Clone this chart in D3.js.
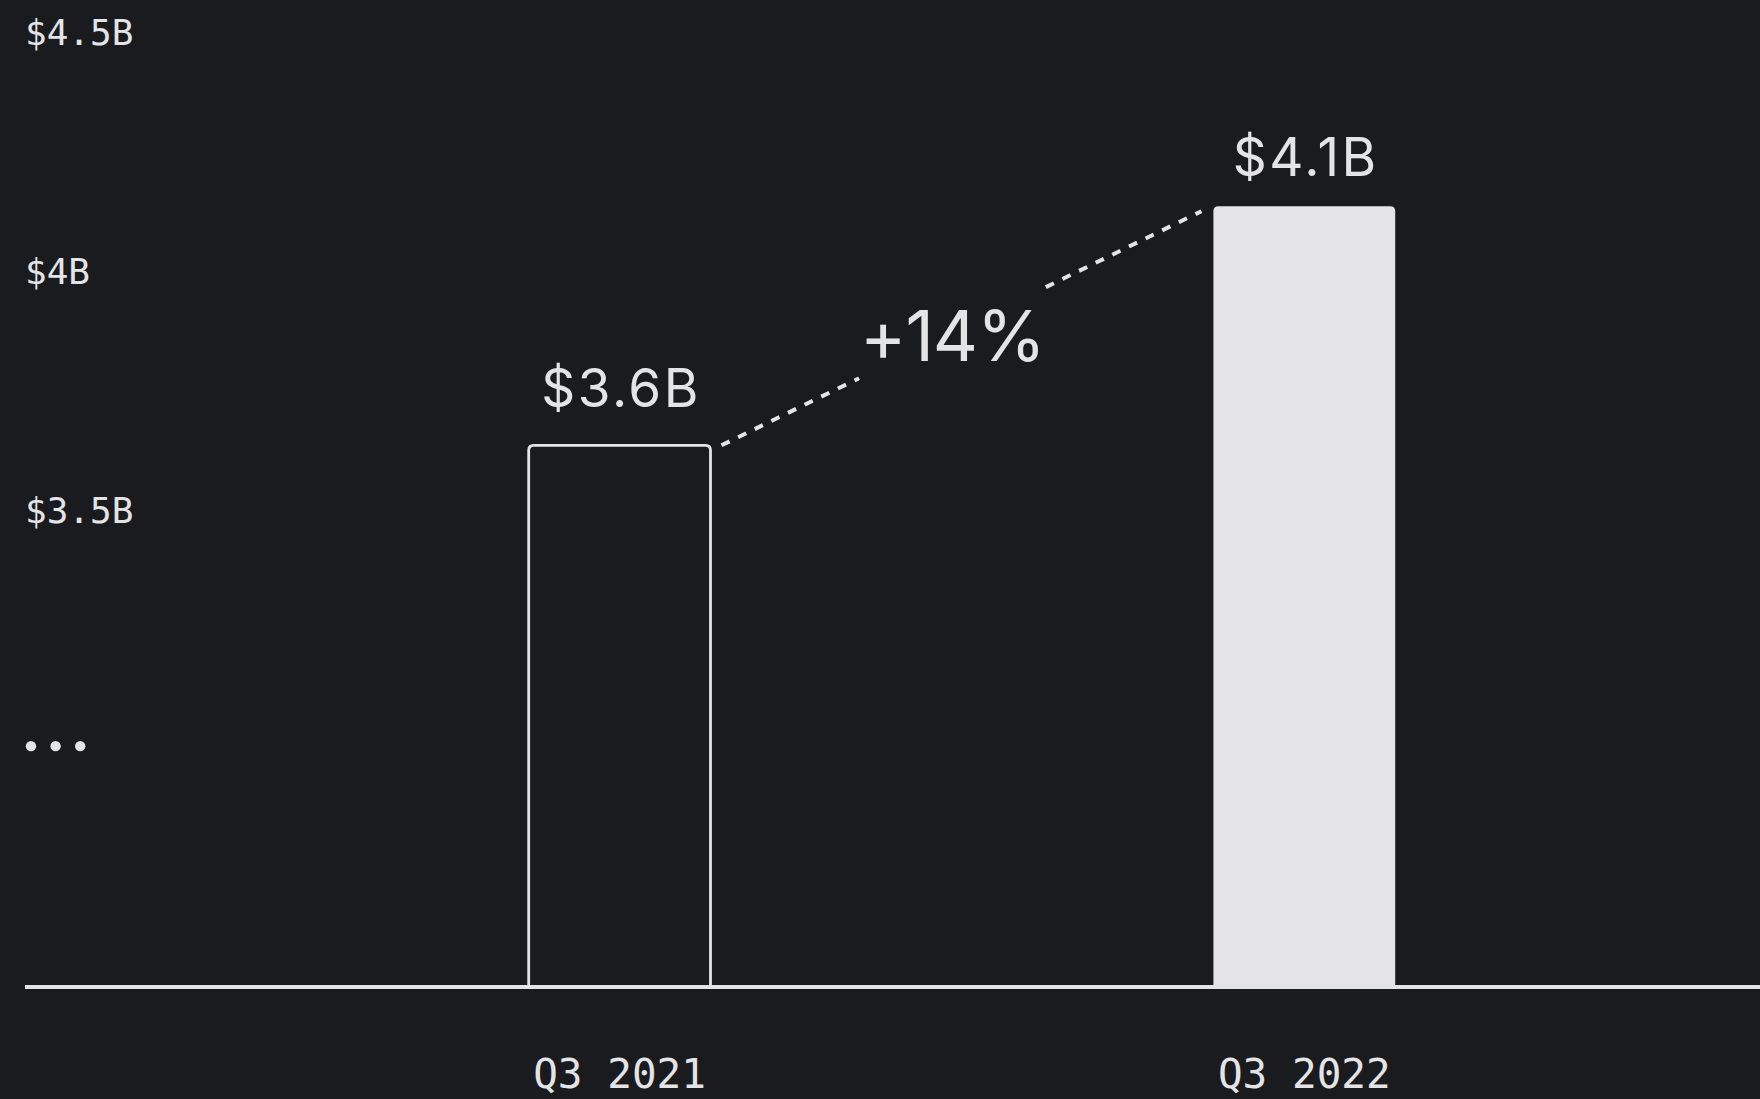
<!DOCTYPE html>
<html>
<head>
<meta charset="utf-8">
<script src="https://cdn.jsdelivr.net/npm/d3@7"></script>
<style>
  html, body { margin: 0; padding: 0; background: #1a1b1f; }
  svg { display: block; }
</style>
</head>
<body>
<div class="chart"></div>
<script>
var categories = ['Q3 2021', 'Q3 2022'],
  revenue = [3.6, 4.1],
  valueLabels = ['$3.6B', '$4.1B'],
  tickValues = [4.5, 4, 3.5],
  tickLabels = ['$4.5B', '$4B', '$3.5B'],
  changeLabel = '+14%';

var width = 1760,
  height = 1099,
  ink = '#e4e4e6',
  bg = '#1a1b1f',
  monoFont = '"DejaVu Sans Mono", monospace',
  sansFont = 'Inter, "Noto Sans", sans-serif';

var svg = d3.select('.chart')
  .append('svg')
    .attr('width', width)
    .attr('height', height)
    .style('background', bg);

// scales
var xScale = d3.scaleBand()
  .domain(categories)
  .range([528.7, 1395.2])
  .paddingInner(0.7345)
  .paddingOuter(0);

var yScale = d3.scaleLinear()
  .domain([2.467, 4.5])
  .range([987, 15]);

var baseY = yScale.range()[0],
  bw = xScale.bandwidth();

// y labels
svg.selectAll('.ylabel')
  .data(tickValues)
  .enter()
  .append('text')
    .attr('class', 'ylabel')
    .attr('x', 25)
    .attr('y', d => yScale(d) + 30)
    .style('font-family', monoFont)
    .style('font-size', '36px')
    .style('fill', ink)
    .text((d, i) => tickLabels[i]);

// the "..." axis break, sits where 3.0 would be
svg.selectAll('.dot')
  .data([0, 1, 2])
  .enter()
  .append('circle')
    .attr('class', 'dot')
    .attr('cx', d => 31 + d * 24.6)
    .attr('cy', yScale(3) + 14)
    .attr('r', 5.2)
    .style('fill', ink);

// bars, rounded on top only
function barPath(d, i) {
  var x0 = xScale(categories[i]), x1 = x0 + bw,
    y0 = yScale(d), r = 5;
  return `M${x0},${baseY} V${y0 + r} Q${x0},${y0} ${x0 + r},${y0} H${x1 - r} Q${x1},${y0} ${x1},${y0 + r} V${baseY}`;
}

svg.selectAll('.bar')
  .data(revenue)
  .enter()
  .append('path')
    .attr('class', 'bar')
    .attr('d', barPath)
    .style('fill', (d, i) => i === 0 ? 'none' : ink)
    .style('stroke', ink)
    .style('stroke-width', (d, i) => i === 0 ? 2.8 : 0);

// baseline
svg.append('line')
  .attr('x1', 25)
  .attr('x2', width)
  .attr('y1', baseY)
  .attr('y2', baseY)
  .style('stroke', ink)
  .style('stroke-width', 4);

// value labels
svg.selectAll('.vlabel')
  .data(revenue)
  .enter()
  .append('text')
    .attr('class', 'vlabel')
    .attr('x', (d, i) => xScale(categories[i]) + bw / 2 + 1.5)
    .attr('y', (d, i) => yScale(d) - (i === 0 ? 38 : 30))
    .attr('text-anchor', 'middle')
    .style('font-family', sansFont)
    .style('font-size', '53px')
    .style('letter-spacing', '2.5px')
    .style('fill', ink)
    .text((d, i) => valueLabels[i]);

// category labels
svg.selectAll('.xlabel')
  .data(categories)
  .enter()
  .append('text')
    .attr('class', 'xlabel')
    .attr('x', d => xScale(d) + bw / 2)
    .attr('y', 1088)
    .attr('text-anchor', 'middle')
    .style('font-family', monoFont)
    .style('font-size', '41px')
    .style('fill', ink)
    .text(d => d);

// dashed growth line with a gap for the label
var p1 = [xScale(categories[0]) + bw + 11, yScale(revenue[0])],
  p2 = [xScale(categories[1]) - 12, yScale(revenue[1]) + 5],
  slope = (p2[1] - p1[1]) / (p2[0] - p1[0]),
  lineY = x => p1[1] + (x - p1[0]) * slope,
  midX = (p1[0] + p2[0]) / 2 - 9;

var change = svg.append('text')
  .attr('x', midX)
  .attr('y', lineY(midX) + 28)
  .attr('text-anchor', 'middle')
  .style('font-family', sansFont)
  .style('font-size', '70px')
  .style('letter-spacing', '-1px')
  .style('fill', ink)
  .text(changeLabel);

var box = change.node().getBBox(),
  segments = [[p1[0], box.x - 1], [box.x + box.width + 1, p2[0]]];

svg.selectAll('.growth')
  .data(segments)
  .enter()
  .append('line')
    .attr('class', 'growth')
    .attr('x1', d => d[0])
    .attr('y1', d => lineY(d[0]))
    .attr('x2', d => d[1])
    .attr('y2', d => lineY(d[1]))
    .style('stroke', ink)
    .style('stroke-width', 4)
    .style('stroke-dasharray', '9,9.5');
</script>
</body>
</html>
